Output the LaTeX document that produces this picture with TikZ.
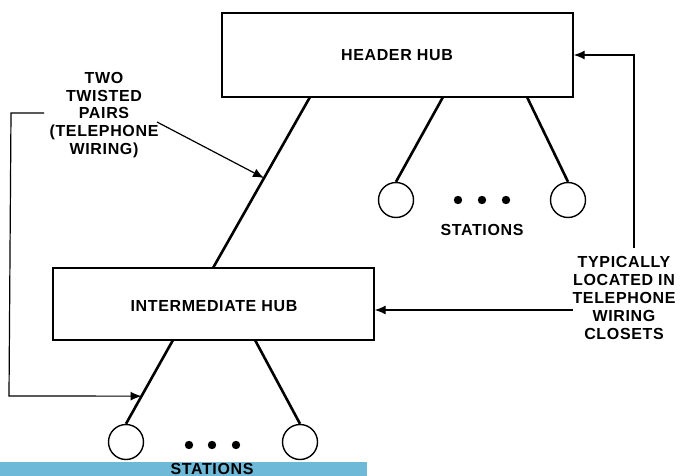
\documentclass[tikz,border=0pt]{standalone}
\usepackage{fontspec}
\setmainfont{Liberation Sans}
\newfontfamily\lettering[LetterSpace=4]{Liberation Sans}
\usetikzlibrary{arrows.meta,calc}

\definecolor{barblue}{RGB}{111,185,216}

\tikzset{
  hub/.style={draw,line width=1.4pt,rectangle,inner sep=0pt},
  station/.style={draw,line width=1.4pt,circle,minimum size=35pt,inner sep=0pt},
  wire/.style={line width=2.6pt},
  note/.style={line width=1.2pt},
  tip/.style={-{Latex[length=11pt,width=9pt]}},
  lbl/.style={align=center,font=\lettering\bfseries\fontsize{16}{17.8}\selectfont,inner sep=0pt},
}

\begin{document}
\begin{tikzpicture}[x=1pt,y=-1pt]
\useasboundingbox (0,0) rectangle (682,476);

\fill[barblue] (0,462) rectangle (367,476);

\node[hub,minimum width=351pt,minimum height=84pt] (hhub) at (397.5,55) {};
\node[lbl] at (397,55) {HEADER HUB};
\node[hub,minimum width=321pt,minimum height=72pt] (ihub) at (213.5,304) {};
\node[lbl] at (214,306) {INTERMEDIATE HUB};

\node[station] (s1) at (396,200) {};
\node[station] (s2) at (568,200) {};
\node[station] (s3) at (126,442) {};
\node[station] (s4) at (300,442) {};

\coordinate (t1) at (310,97);
\coordinate (t2) at (213,268);
\coordinate (h1) at (443,97);
\coordinate (h2) at (527,97);
\coordinate (i1) at (173,340);
\coordinate (i2) at (255,340);

\draw[wire] (t1) -- (t2);
\draw[wire] (h1) -- (s1.north);
\draw[wire] (h2) -- (s2.north);
\draw[wire] (i1) -- (s3.north);
\draw[wire] (i2) -- (s4.north);

\foreach \x in {458,482,506} \fill (\x,200) circle (4.2pt);
\foreach \x in {189,212,236} \fill (\x,445) circle (4.2pt);

\node[lbl] (st1) at (482,230) {STATIONS};
\node[lbl] (st2) at (212,468.5) {STATIONS};

% labels
\node[lbl] (pairs) at (104,115) {TWO\\TWISTED\\PAIRS\\(TELEPHONE\\WIRING)};
\node[lbl] (closet) at (624,298) {TYPICALLY\\LOCATED IN\\TELEPHONE\\WIRING\\CLOSETS};

\coordinate (m1) at ($(t1)!0.474!(t2)$);
\coordinate (m2) at ($(i1)!0.67!(s3.north)$);
\coordinate (p1) at (157,122);
\coordinate (p2) at (44,113);
\coordinate (c1) at (634,248);
\coordinate (c2) at (573,310);

\draw[note,tip] (p1) -- (m1);
\draw[note,tip] (p2) -- (11,113) -- (9,396) -- (m2);
\draw[note,tip] (c1) -- (634,55) -- (hhub.east);
\draw[note,tip] (c2) -- (ihub.east |- c2);

\end{tikzpicture}
\end{document}
